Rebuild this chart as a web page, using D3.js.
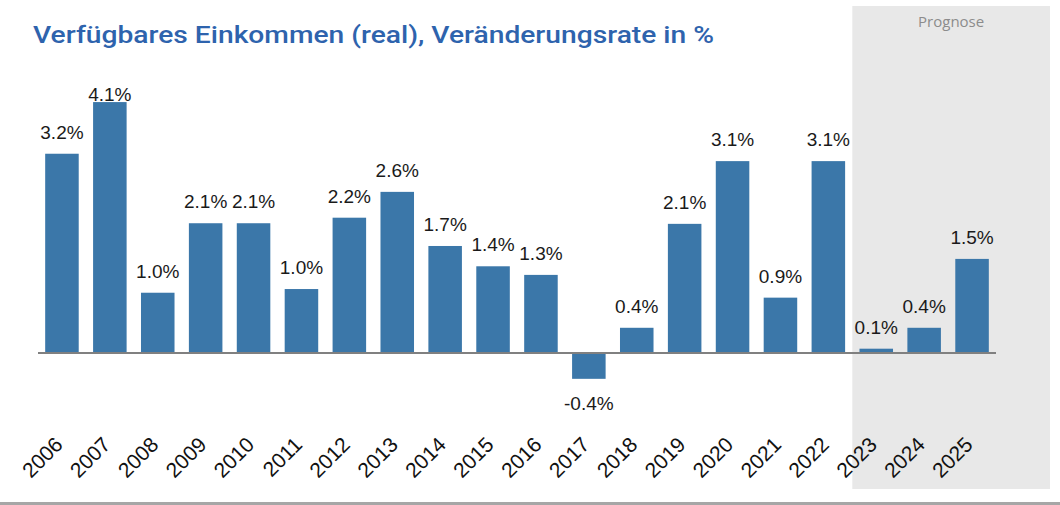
<!DOCTYPE html>
<html>
<head>
<meta charset="utf-8">
<script src="https://cdn.jsdelivr.net/npm/d3@7"></script>
<style>
  body { margin: 0; background: #fff; }
  svg { display: block; }
</style>
</head>
<body>
<svg id="chart" width="1060" height="505"></svg>
<script>
// Werte
const years = ["2006", "2007", "2008", "2009", "2010", "2011", "2012", "2013", "2014", "2015",
    "2016", "2017", "2018", "2019", "2020", "2021", "2022", "2023", "2024", "2025"];
const changeRates = [3.24, 4.08, 0.98, 2.11, 2.11, 1.04, 2.2, 2.62, 1.74, 1.41,
    1.27, -0.42, 0.41, 2.1, 3.12, 0.9, 3.12, 0.07, 0.41, 1.53];
const forecastYears = ["2023", "2024", "2025"];

const titleText = "Verfügbares Einkommen (real), Veränderungsrate in %";
const forecastText = "Prognose";

const data = years.map((y, i) => ({ year: y, value: changeRates[i] }));

const svg = d3.select("#chart"),
    width = +svg.attr("width"),
    height = +svg.attr("height");

const zeroY = 353, pxPerUnit = 61.5;
const labelTop = 101; // Beschriftungen bleiben im Plotbereich

const x = d3.scaleBand()
    .domain(years)
    .range([38, 996])
    .paddingInner(0.3)
    .paddingOuter(0.15);

const y = d3.scaleLinear()
    .domain([-1, 4.5])
    .range([zeroY + pxPerUnit, zeroY - 4.5 * pxPerUnit]);

// Prognose-Hintergrund
const gap = (x.step() - x.bandwidth()) / 2;
const boxX = x(forecastYears[0]) - gap;
svg.append("rect")
    .attr("x", boxX)
    .attr("y", 6)
    .attr("width", 1050 - boxX)
    .attr("height", 489 - 6)
    .attr("fill", "#e8e8e8");

svg.append("text")
    .attr("x", (boxX + 1050) / 2)
    .attr("y", 27)
    .attr("text-anchor", "middle")
    .style("font-family", "'Open Sans', sans-serif")
    .style("font-size", "15px")
    .attr("fill", "#8c8c8c")
    .text(forecastText);

// Titel
svg.append("text")
    .attr("x", 33)
    .attr("y", 43)
    .attr("textLength", 681)
    .attr("lengthAdjust", "spacingAndGlyphs")
    .style("font-family", "Roboto, sans-serif")
    .style("font-size", "23px")
    .style("font-weight", "500")
    .attr("fill", "#2e63ad")
    .text(titleText);

// Balken
svg.append("g")
    .selectAll("rect")
    .data(data)
    .join("rect")
    .attr("x", d => x(d.year))
    .attr("width", x.bandwidth())
    .attr("y", d => y(Math.max(0, d.value)))
    .attr("height", d => Math.abs(y(d.value) - y(0)))
    .attr("fill", "#3b77a9");

// Nulllinie
svg.append("line")
    .attr("x1", 38)
    .attr("x2", 996)
    .attr("y1", y(0))
    .attr("y2", y(0))
    .attr("stroke", "#808080")
    .attr("stroke-width", 2);

// Wertbeschriftungen
svg.append("g")
    .selectAll("text")
    .data(data)
    .join("text")
    .attr("x", d => x(d.year) + x.bandwidth() / 2)
    .attr("y", d => d.value >= 0 ? Math.max(y(d.value) - 15, labelTop) : y(d.value) + 31)
    .attr("text-anchor", "middle")
    .style("font-family", "'Liberation Sans', Arial, sans-serif")
    .style("font-size", "19px")
    .attr("fill", "#1a1a1a")
    .text(d => d.value.toFixed(1) + "%");

// Jahresachse
svg.append("g")
    .selectAll("text")
    .data(years)
    .join("text")
    .attr("transform", d => "translate(" + (x(d) + x.bandwidth() / 2 + 2) + ",446) rotate(-45)")
    .attr("text-anchor", "end")
    .style("font-family", "'Liberation Sans', Arial, sans-serif")
    .style("font-size", "21px")
    .attr("fill", "#111")
    .text(d => d);

// Linie unten
svg.append("rect")
    .attr("x", 0)
    .attr("y", 502)
    .attr("width", width)
    .attr("height", 3)
    .attr("fill", "#a6a6a6");
</script>
</body>
</html>
